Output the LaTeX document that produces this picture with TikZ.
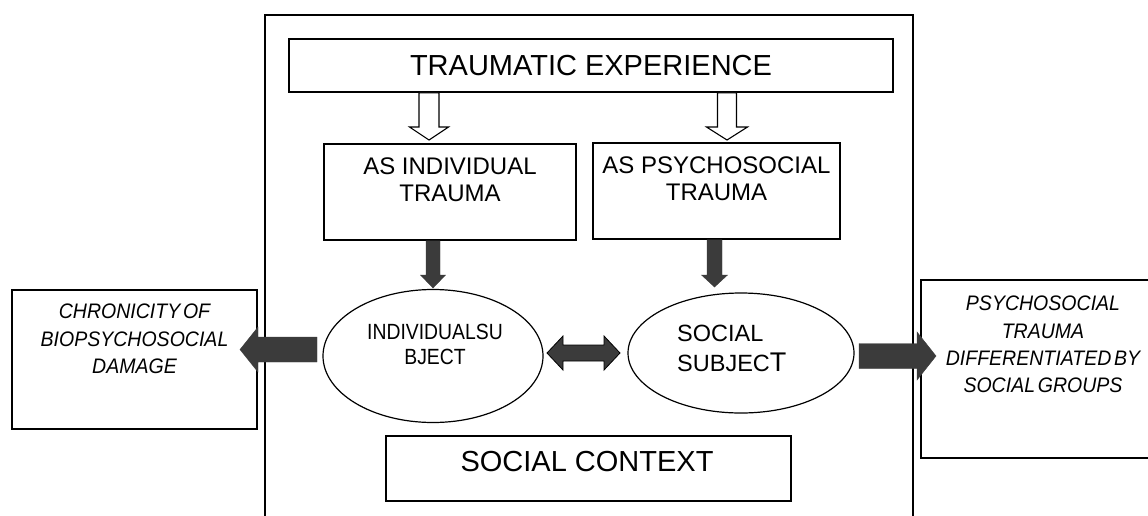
\documentclass[tikz,border=0pt]{standalone}
\usepackage{fontspec}
\setmainfont{Liberation Sans}
\newfontfamily\narrowfont{Liberation Sans}[FakeStretch=0.93,WordSpace=0.5]
\newfontfamily\condfont{Liberation Sans}[FakeStretch=0.88]
\usetikzlibrary{positioning,calc,shapes.geometric}
\definecolor{arrowgray}{HTML}{3B3B3B}

\begin{document}
\begin{tikzpicture}[x=1pt,y=-1pt,
  box/.style={draw, line width=1.8pt, inner sep=0pt},
  oval/.style={draw, ellipse, line width=1.2pt, inner sep=0pt},
  bigtext/.style={inner sep=0pt, font=\fontsize{29}{34}\selectfont},
  boxtext/.style={inner sep=0pt, align=center, font=\fontsize{24}{27}\selectfont},
  condtext/.style={inner sep=0pt, align=center, font=\condfont\fontsize{22}{25}\selectfont},
  ovaltext/.style={inner sep=0pt, align=left, font=\fontsize{23.5}{30}\selectfont},
  sidetext/.style={inner sep=0pt, align=center, font=\narrowfont\itshape\fontsize{21}{27.3}\selectfont},
  darkarrow/.style={fill=arrowgray, draw=arrowgray, line width=0.4pt},
  hollowarrow/.style={fill=white, draw=black, line width=1.1pt},
  blockarrow/.style n args={3}{to path={
    let \p1=($(\tikztotarget)!#3!(\tikztostart)$) in
    ($(\tikztostart)!#1!90:(\tikztotarget)$) -- ($(\p1)!#1!90:(\tikztotarget)$)
    -- ($(\p1)!#2!90:(\tikztotarget)$) -- (\tikztotarget)
    -- ($(\p1)!#2!-90:(\tikztotarget)$) -- ($(\p1)!#1!-90:(\tikztotarget)$)
    -- ($(\tikztostart)!#1!-90:(\tikztotarget)$) -- cycle}},
  twoheads/.style n args={3}{to path={
    let \p1=($(\tikztostart)!#3!(\tikztotarget)$), \p2=($(\tikztotarget)!#3!(\tikztostart)$) in
    (\tikztostart) -- ($(\p1)!#2!90:(\tikztotarget)$) -- ($(\p1)!#1!90:(\tikztotarget)$)
    -- ($(\p2)!#1!-90:(\tikztostart)$) -- ($(\p2)!#2!-90:(\tikztostart)$) -- (\tikztotarget)
    -- ($(\p2)!#2!90:(\tikztostart)$) -- ($(\p2)!#1!90:(\tikztostart)$)
    -- ($(\p1)!#1!-90:(\tikztotarget)$) -- ($(\p1)!#2!-90:(\tikztotarget)$) -- cycle}}]
\useasboundingbox (0,0) rectangle (1148,515);

%%Frame
\node[box, line width=2.5pt, minimum width=648pt, minimum height=515pt] (frame) at (589,272.5) {};

%%Boxes
\node[box, bigtext, minimum width=604pt, minimum height=53pt] (title) at (591,65.5) {TRAUMATIC EXPERIENCE};
\node[box, minimum width=252pt, minimum height=96pt] (indiv) at (450,192) {};
\node[box, minimum width=247pt, minimum height=96pt] (psych) at (716.5,191) {};
\node[box, minimum width=405pt, minimum height=65pt] (context) at (588.5,468.5) {};
\node[box, minimum width=245pt, minimum height=139pt] (chron) at (134.5,359.5) {};
\node[box, minimum width=290pt, minimum height=178pt] (groups) at (1066,369) {};

%%Subjects
\node[oval, minimum width=220pt, minimum height=133pt] (isubj) at (433,356) {};
\node[oval, minimum width=226pt, minimum height=120pt] (ssubj) at (741,353) {};

%%Label
\node[boxtext, below=14pt of indiv.north] (indivtxt) {AS INDIVIDUAL\\TRAUMA};
\node[boxtext, below=14pt of psych.north] (psychtxt) {AS PSYCHOSOCIAL\\TRAUMA};
\node[condtext] (isubjtxt) at (435,344.5) {INDIVIDUALSU\\BJECT};
\node[ovaltext, anchor=north west] (ssubjtxt) at (677,325) {SOCIAL\\SUBJEC{\fontsize{27}{30}\selectfont T}};
\node[bigtext] (contexttxt) at (587,462) {SOCIAL CONTEXT};
\node[sidetext, below=15pt of chron.north] (chrontxt) {CHRONICITY OF\\BIOPSYCHOSOCIAL\\DAMAGE};
\node[sidetext, anchor=north] (groupstxt) at (1043,296) {PSYCHOSOCIAL\\TRAUMA\\DIFFERENTIATED BY\\SOCIAL GROUPS};

%%Arrow ends
\coordinate (hl) at (429,140);
\coordinate (hr) at (727,140);
\coordinate (dl) at (433,288);
\coordinate (dr) at (714.5,287);
\coordinate (lstart) at (317,349.5);
\coordinate (ltip) at (240,349.5);
\coordinate (rstart) at (859,356);
\coordinate (rtip) at (936,356);
\coordinate (dbl1) at (547,353);
\coordinate (dbl2) at (620,353);

%%Arrows
\draw[hollowarrow, blockarrow={10pt}{19.5pt}{13pt}] (title.south -| hl) to (hl);
\draw[hollowarrow, blockarrow={9.5pt}{20.5pt}{13pt}] (title.south -| hr) to (hr);
\draw[darkarrow, blockarrow={7pt}{12.5pt}{13pt}] (indiv.south -| dl) to (dl);
\draw[darkarrow, blockarrow={7.5pt}{13pt}{12pt}] (psych.south -| dr) to (dr);
\draw[darkarrow, blockarrow={12.5pt}{22.5pt}{18pt}] (lstart) to (ltip);
\draw[darkarrow, blockarrow={12.5pt}{24pt}{19pt}] (rstart) to (rtip);
\draw[darkarrow, draw=black, line width=0.8pt, twoheads={8pt}{17pt}{16pt}] (dbl1) to (dbl2);

\end{tikzpicture}
\end{document}
